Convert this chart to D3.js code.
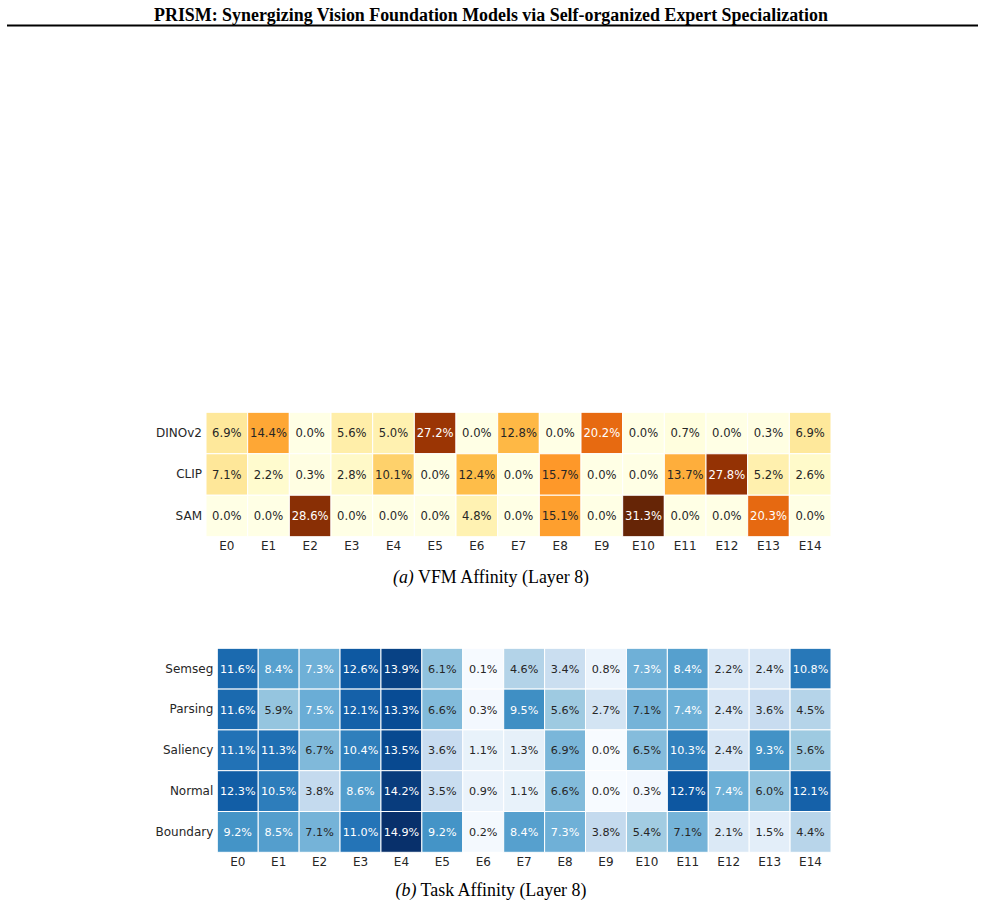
<!DOCTYPE html>
<html>
<head>
<meta charset="utf-8">
<script src="https://cdn.jsdelivr.net/npm/d3@7"></script>
<style>
  html, body { margin: 0; padding: 0; background: #fff; }
</style>
</head>
<body>
<svg id="page" width="985" height="906"></svg>
<script>
const experts = d3.range(15).map(i => `E${i}`);

const vfmRows = ['DINOv2', 'CLIP', 'SAM'];
const vfmDINOv2 = [6.9, 14.4, 0.0, 5.6, 5.0, 27.2, 0.0, 12.8, 0.0, 20.2, 0.0, 0.7, 0.0, 0.3, 6.9];
const vfmCLIP = [7.1, 2.2, 0.3, 2.8, 10.1, 0.0, 12.4, 0.0, 15.7, 0.0, 0.0, 13.7, 27.8, 5.2, 2.6];
const vfmSAM = [0.0, 0.0, 28.6, 0.0, 0.0, 0.0, 4.8, 0.0, 15.1, 0.0, 31.3, 0.0, 0.0, 20.3, 0.0];

const taskRows = ['Semseg', 'Parsing', 'Saliency', 'Normal', 'Boundary'];
const taskSemseg = [11.6, 8.4, 7.3, 12.6, 13.9, 6.1, 0.1, 4.6, 3.4, 0.8, 7.3, 8.4, 2.2, 2.4, 10.8];
const taskParsing = [11.6, 5.9, 7.5, 12.1, 13.3, 6.6, 0.3, 9.5, 5.6, 2.7, 7.1, 7.4, 2.4, 3.6, 4.5];
const taskSaliency = [11.1, 11.3, 6.7, 10.4, 13.5, 3.6, 1.1, 1.3, 6.9, 0.0, 6.5, 10.3, 2.4, 9.3, 5.6];
const taskNormal = [12.3, 10.5, 3.8, 8.6, 14.2, 3.5, 0.9, 1.1, 6.6, 0.0, 0.3, 12.7, 7.4, 6.0, 12.1];
const taskBoundary = [9.2, 8.5, 7.1, 11.0, 14.9, 9.2, 0.2, 8.4, 7.3, 3.8, 5.4, 7.1, 2.1, 1.5, 4.4];

const svg = d3.select('#page');
const sans = 'DejaVu Sans, sans-serif';
const serif = 'Liberation Serif, Times New Roman, serif';

// header
svg.append('text')
  .attr('x', 491)
  .attr('y', 20.5)
  .attr('text-anchor', 'middle')
  .attr('font-family', serif)
  .attr('font-weight', 'bold')
  .attr('font-size', 17.9)
  .text('PRISM: Synergizing Vision Foundation Models via Self-organized Expert Specialization');

svg.append('line')
  .attr('x1', 7).attr('x2', 978)
  .attr('y1', 25.5).attr('y2', 25.5)
  .attr('stroke', '#000')
  .attr('stroke-width', 2);

// matplotlib-style linear colormap through the 9 ColorBrewer stops
const cmap = (scheme, vmax) => d3.scaleLinear()
  .domain(d3.range(9).map(i => vmax * i / 8))
  .range(scheme)
  .interpolate(d3.interpolateRgb)
  .clamp(true);

const luminance = color => {
  const c = d3.rgb(color);
  const [r, g, b] = [c.r, c.g, c.b].map(v => {
    v /= 255;
    return v <= 0.03928 ? v / 12.92 : Math.pow((v + 0.055) / 1.055, 2.4);
  });
  return 0.2126 * r + 0.7152 * g + 0.0722 * b;
};

const heatmap = ({ rows, series, box, scheme, annotSize, caption, captionY }) => {
  const g = svg.append('g');

  const x = d3.scaleBand().domain(experts).range([box.x0, box.x1]);
  const y = d3.scaleBand().domain(rows).range([box.y0, box.y1]);
  const vmax = d3.max(series.flat());
  const color = cmap(scheme, vmax);

  const cells = rows.flatMap((row, r) => series[r].map((value, c) => ({ row, expert: experts[c], value })));

  g.selectAll('rect')
    .data(cells)
    .join('rect')
    .attr('x', d => x(d.expert))
    .attr('y', d => y(d.row))
    .attr('width', x.bandwidth())
    .attr('height', y.bandwidth())
    .attr('fill', d => color(d.value))
    .attr('stroke', '#fff')
    .attr('stroke-width', 1);

  g.selectAll('text.annot')
    .data(cells)
    .join('text')
    .attr('class', 'annot')
    .attr('x', d => x(d.expert) + x.bandwidth() / 2)
    .attr('y', d => y(d.row) + y.bandwidth() / 2)
    .attr('dy', '0.36em')
    .attr('text-anchor', 'middle')
    .attr('font-family', sans)
    .attr('font-size', annotSize)
    .attr('fill', d => luminance(color(d.value)) > 0.408 ? '#262626' : '#fff')
    .text(d => `${d.value.toFixed(1)}%`);

  g.append('g')
    .attr('transform', `translate(${box.x0},0)`)
    .call(d3.axisLeft(y).tickSize(0).tickPadding(4))
    .call(a => a.select('.domain').remove())
    .call(a => a.selectAll('text')
      .attr('font-family', sans)
      .attr('font-size', 12)
      .attr('fill', '#262626'));

  g.append('g')
    .attr('transform', `translate(0,${box.y1})`)
    .call(d3.axisBottom(x).tickSize(0).tickPadding(5))
    .call(a => a.select('.domain').remove())
    .call(a => a.selectAll('text')
      .attr('font-family', sans)
      .attr('font-size', 12)
      .attr('fill', '#262626'));

  const cap = svg.append('text')
    .attr('x', 491)
    .attr('y', captionY)
    .attr('text-anchor', 'middle')
    .attr('font-family', serif)
    .attr('font-size', 17.9);
  cap.append('tspan').attr('font-style', 'italic').text(caption[0]);
  cap.append('tspan').text(` ${caption[1]}`);
};

heatmap({
  rows: vfmRows,
  series: [vfmDINOv2, vfmCLIP, vfmSAM],
  box: { x0: 206, x1: 831, y0: 412.3, y1: 536.7 },
  scheme: d3.schemeYlOrBr[9],
  annotSize: 11.6,
  caption: ['(a)', 'VFM Affinity (Layer 8)'],
  captionY: 583,
});

heatmap({
  rows: taskRows,
  series: [taskSemseg, taskParsing, taskSaliency, taskNormal, taskBoundary],
  box: { x0: 217.3, x1: 831, y0: 648.3, y1: 852.3 },
  scheme: d3.schemeBlues[9],
  annotSize: 11.2,
  caption: ['(b)', 'Task Affinity (Layer 8)'],
  captionY: 896,
});
</script>
</body>
</html>
